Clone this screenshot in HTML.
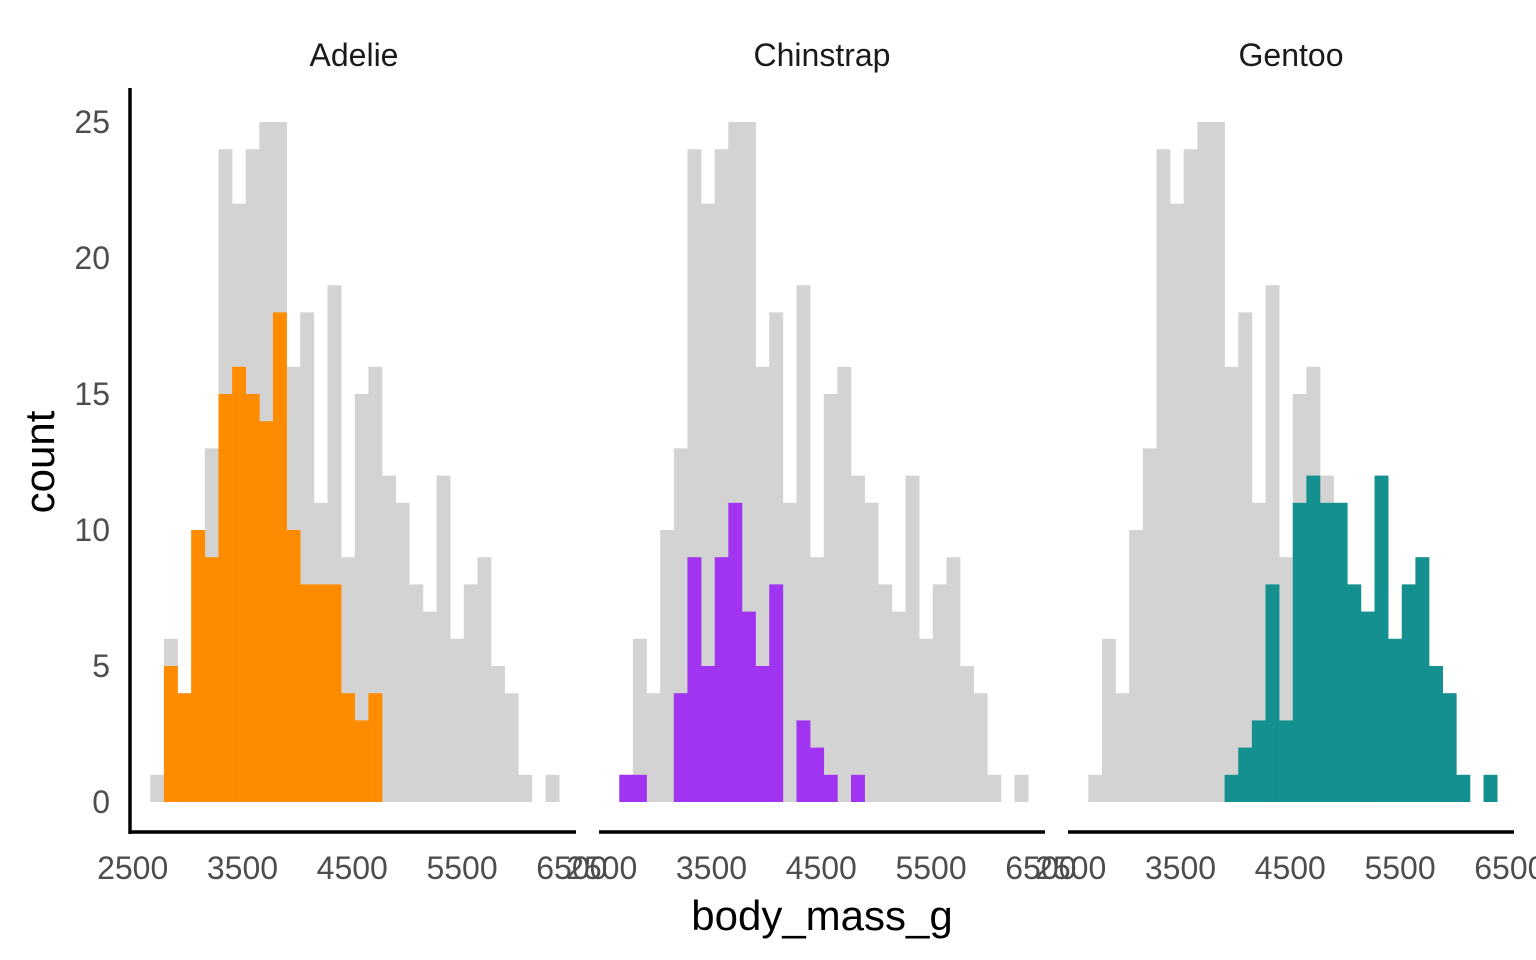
<!DOCTYPE html>
<html><head><meta charset="utf-8"><style>
html,body{margin:0;padding:0;background:#fff;}
svg{display:block;font-family:"Liberation Sans",Arial,sans-serif;}
</style></head><body>
<svg id="s" width="1536" height="960" xmlns="http://www.w3.org/2000/svg">
<g id="bars"></g>
<g fill="#1a1a1a" font-size="32" text-anchor="middle">
<text x="354" y="66">Adelie</text>
<text x="822" y="66">Chinstrap</text>
<text x="1291" y="66">Gentoo</text>
</g>
<g fill="#4d4d4d" font-size="32" text-anchor="end">
<text x="110" y="813">0</text>
<text x="110" y="677">5</text>
<text x="110" y="541">10</text>
<text x="110" y="405">15</text>
<text x="110" y="269">20</text>
<text x="110" y="133">25</text>
</g>
<g id="xt" fill="#4d4d4d" font-size="32" text-anchor="middle"></g>
<line x1="130" y1="88" x2="130" y2="834" stroke="#000" stroke-width="3.5"/>
<line x1="129" y1="832" x2="576" y2="832" stroke="#000" stroke-width="3.5"/>
<line x1="599" y1="832" x2="1045" y2="832" stroke="#000" stroke-width="3.5"/>
<line x1="1068" y1="832" x2="1514" y2="832" stroke="#000" stroke-width="3.5"/>
<text x="822" y="930" font-size="42" text-anchor="middle" fill="#000">body_mass_g</text>
<text transform="translate(54,462) rotate(-90)" font-size="42" text-anchor="middle" fill="#000">count</text>
</svg>
<script>
var A=[0,5,4,10,9,15,16,15,14,18,10,8,8,8,4,3,4,0,0,0,0,0,0,0,0,0,0,0,0,0];
var C=[1,1,0,0,4,9,5,9,11,7,5,8,0,3,2,1,0,1,0,0,0,0,0,0,0,0,0,0,0,0];
var G=[0,0,0,0,0,0,0,0,0,0,1,2,3,8,3,11,12,11,11,8,7,12,6,8,9,5,4,1,0,1];
var T=[1,6,4,10,13,24,22,24,25,25,16,18,11,19,9,15,16,12,11,8,7,12,6,8,9,5,4,1,0,1];
var cols=["#ff8c00","#a034f0","#159090"],data=[A,C,G];
var ns="http://www.w3.org/2000/svg",b=document.getElementById("bars"),xt=document.getElementById("xt");
var w=13.63,y0=802,u=27.2;
function r(x,h,c){if(!h)return;var e=document.createElementNS(ns,"rect");e.setAttribute("x",x);e.setAttribute("y",y0-h*u);e.setAttribute("width",w+0.3);e.setAttribute("height",h*u);e.setAttribute("fill",c);b.appendChild(e);}
for(var p=0;p<3;p++){var off=150.3+469*p;
for(var i=0;i<30;i++)r(off+i*w,T[i],"#d3d3d3");
for(var i=0;i<30;i++)r(off+i*w,data[p][i],cols[p]);
for(var g=2500;g<=6500;g+=1000){var t=document.createElementNS(ns,"text");t.setAttribute("x",off-2.5+(g-2637.9)*0.1098);t.setAttribute("y",879);t.textContent=g;xt.appendChild(t);}
}
</script>
</body></html>
